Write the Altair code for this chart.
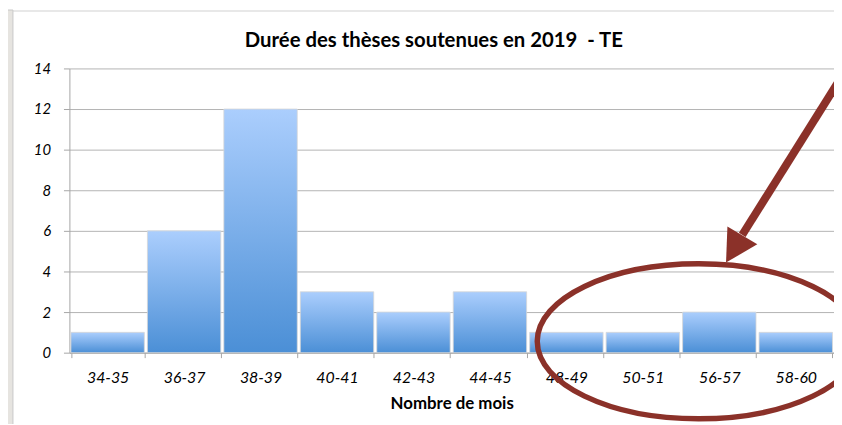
import altair as alt
import pandas as pd

# ---- data ----
categories = ["34-35", "36-37", "38-39", "40-41", "42-43", "44-45",
              "48-49", "50-51", "56-57", "58-60"]
counts = [1, 6, 12, 3, 2, 3, 1, 1, 2, 1]
y_ticks = [0, 2, 4, 6, 8, 10, 12, 14]

title_text = "Durée des thèses soutenues en 2019\u00a0 - TE"
x_title = "Nombre de mois"

# annotation positions, in band units along x (0..10) and counts along y
arrow_x = [10.05]
arrow_y = [13.3]
arrow_x2 = [8.80]
arrow_y2 = [5.8]
head_x = [8.588]
head_y = [4.44]
ellipse_x = [8.23]
ellipse_y = [0.56]

RED = "#8b3129"
FONT = "Lato"
W, H = 772, 287

df = pd.DataFrame({"cat": categories, "n": counts})
arrow_df = pd.DataFrame({"x": arrow_x, "n": arrow_y, "x2": arrow_x2, "n2": arrow_y2})
head_df = pd.DataFrame({"x": head_x, "n": head_y})
ell_df = pd.DataFrame({"x": ellipse_x, "n": ellipse_y})

y_scale = alt.Scale(domain=[0, 14], nice=False, zero=True)
a_scale = alt.Scale(domain=[0, 10], nice=False, zero=False)
y_axis = alt.Axis(title=None, values=y_ticks, grid=True, gridColor="#b3b3b3",
                  tickSize=6, tickColor="#a6a6a6", domainColor="#a6a6a6",
                  labelFont=FONT, labelFontSize=15, labelFontStyle="italic",
                  labelColor="black", labelPadding=13)

# slide background strip on the left, and the chart panel's top border
strip = alt.Chart(pd.DataFrame({"k": [0]})).mark_rect(
    fill="#e6e4e0", stroke="#c8c8c8", strokeWidth=1
).encode(x=alt.value(-63), x2=alt.value(-57), y=alt.value(-59), y2=alt.value(400))
top_border = alt.Chart(pd.DataFrame({"k": [0]})).mark_rule(
    color="#d0d0d0", strokeWidth=1
).encode(x=alt.value(-57), x2=alt.value(790), y=alt.value(-58))

grad = alt.Gradient(
    gradient="linear", x1=0, y1=0, x2=0, y2=1,
    stops=[alt.GradientStop(color="#abcefd", offset=0),
           alt.GradientStop(color="#4b8fd6", offset=1)],
)

bars = alt.Chart(df).mark_bar(color=grad, stroke="#d6d6d6", strokeWidth=0.8).encode(
    x=alt.X("cat:N", sort=categories,
            scale=alt.Scale(paddingInner=0.04, paddingOuter=0.02),
            axis=alt.Axis(title=x_title, labelAngle=0, tickBand="extent",
                          tickSize=5, tickColor="#a6a6a6", domainColor="#a6a6a6",
                          labelFont=FONT, labelFontSize=16, labelFontStyle="italic",
                          labelColor="black", labelPadding=12,
                          titleFont=FONT, titleFontSize=17, titleFontWeight="bold",
                          titleColor="black", titlePadding=10)),
    y=alt.Y("n:Q", scale=y_scale, axis=y_axis),
)

shaft = alt.Chart(arrow_df).mark_rule(color=RED, strokeWidth=8, strokeCap="butt").encode(
    x=alt.X("x:Q", scale=a_scale, axis=None),
    x2="x2:Q",
    y=alt.Y("n:Q", scale=y_scale, axis=y_axis),
    y2="n2:Q",
)

head = alt.Chart(head_df).mark_point(
    shape="M 0 0 L -0.55 -1 L 0.55 -1 Z", angle=31, size=4096,
    filled=True, color=RED, opacity=1, strokeWidth=0,
).encode(
    x=alt.X("x:Q", scale=a_scale, axis=None),
    y=alt.Y("n:Q", scale=y_scale, axis=y_axis),
)

b = 0.48
k = 0.5523 * b
ell_path = (f"M -1 0 C -1 {-k} -0.5523 {-b} 0 {-b} "
            f"C 0.5523 {-b} 1 {-k} 1 0 "
            f"C 1 {k} 0.5523 {b} 0 {b} "
            f"C -0.5523 {b} -1 {k} -1 0 Z")

ellipse = alt.Chart(ell_df).mark_point(
    shape=ell_path, size=326 * 326, filled=False, stroke=RED,
    strokeWidth=5.5, opacity=1,
).encode(
    x=alt.X("x:Q", scale=a_scale, axis=None),
    y=alt.Y("n:Q", scale=y_scale, axis=y_axis),
)

chart = alt.layer(strip, top_border, bars, shaft, head, ellipse).resolve_scale(
    x="independent"
).properties(
    width=W, height=H,
    title=alt.Title(title_text, font=FONT, fontSize=20.5, fontWeight="bold",
                    color="black", anchor="middle", baseline="alphabetic",
                    frame="group", offset=14, dy=72, dx=-18),
    autosize=alt.AutoSizeParams(type="none"),
    padding={"left": 62, "top": 59, "right": 0, "bottom": 70},
    background="white",
).configure_view(stroke=None)

chart.save("out.html", embed_options={"renderer": "svg", "actions": False})
